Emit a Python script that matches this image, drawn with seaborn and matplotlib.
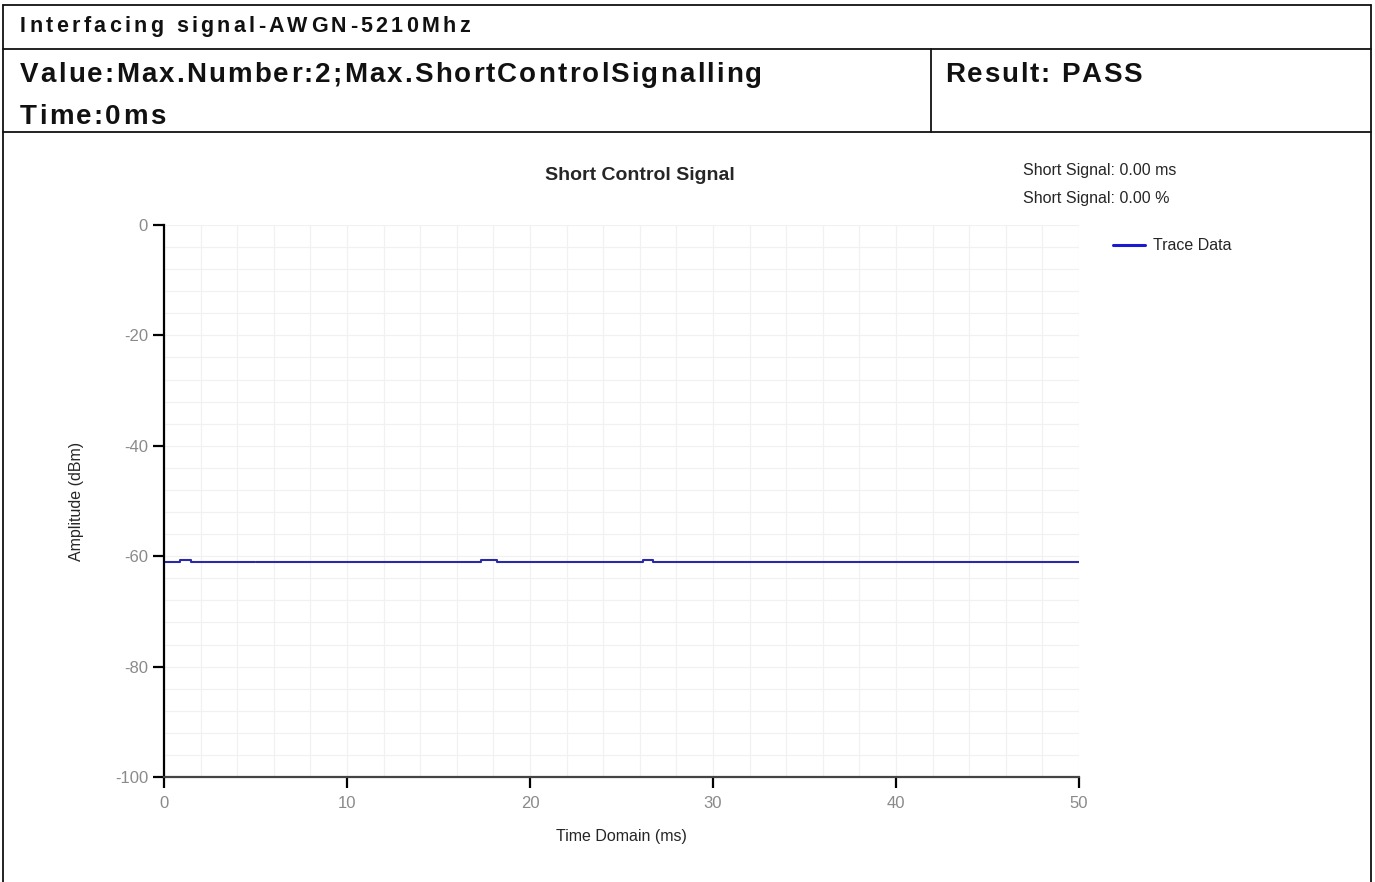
import numpy as np
import pandas as pd
import matplotlib
matplotlib.use("Agg")
import matplotlib.pyplot as plt
from matplotlib.lines import Line2D
from matplotlib.ticker import MultipleLocator
from matplotlib import font_manager
import seaborn as sns

# ---- data ----
time_ms = [0.0, 0.9, 0.9, 1.45, 1.45, 4.95,
           5.05, 17.3, 17.3, 18.2, 18.2, 26.15, 26.15, 26.7, 26.7, 50.0]
amplitude_dbm = [-61.0, -61.0, -60.7, -60.7, -61.0, -61.0,
                 -61.0, -61.0, -60.7, -60.7, -61.0, -61.0, -60.7, -60.7, -61.0, -61.0]
segment = [0, 0, 0, 0, 0, 0,
           1, 1, 1, 1, 1, 1, 1, 1, 1, 1]
x_ticks = [0, 10, 20, 30, 40, 50]
y_ticks = [0, -20, -40, -60, -80, -100]

header_title = "Interfacing signal-AWGN-5210Mhz"
header_value_1 = "Value:Max.Number:2;Max.ShortControlSignalling"
header_value_2 = "Time:0ms"
header_result = "Result: PASS"
chart_title = "Short Control Signal"
info_lines = ["Short Signal: 0.00 ms", "Short Signal: 0.00 %"]
legend_label = "Trace Data"

df = pd.DataFrame({"Time": time_ms, "Amplitude": amplitude_dbm, "seg": segment})

sns.set_style("white")
plt.rcParams['font.family'] = ['Liberation Sans', 'DejaVu Sans']
plt.rcParams['axes.unicode_minus'] = False

W, H = 1375, 882
fig = plt.figure(figsize=(W / 100, H / 100), dpi=100)
renderer = fig.canvas.get_renderer()


def fx(px):
    return px / W


def fy(py):
    return 1 - py / H


# frame / table lines
lw = 1.3
for (x0, y0, x1, y1) in [(2.5, 5, 1371, 5), (2.5, 5, 2.5, 882), (1371, 5, 1371, 882),
                         (2.5, 48.5, 1371, 48.5), (2.5, 132, 1371, 132), (931, 48.5, 931, 132)]:
    fig.add_artist(Line2D([fx(x0), fx(x1)], [fy(y0), fy(y1)], color="#111111", lw=lw))

# pick header font
hdr_family = 'Liberation Sans'
try:
    font_manager.findfont(font_manager.FontProperties(family='Liberation Sans Narrow'),
                          fallback_to_default=False)
    hdr_family = 'Liberation Sans Narrow'
except Exception:
    pass


def char_width(ch, size):
    if ch == " ":
        t1 = fig.text(0, 0, "a a", fontsize=size, fontweight="bold", family=hdr_family)
        t2 = fig.text(0, 0, "aa", fontsize=size, fontweight="bold", family=hdr_family)
        w = t1.get_window_extent(renderer).width - t2.get_window_extent(renderer).width
        t1.remove(); t2.remove()
        return w
    t = fig.text(0, 0, ch, fontsize=size, fontweight="bold", family=hdr_family)
    w = t.get_window_extent(renderer).width
    t.remove()
    return w


def tracked_text(x_px, base_px, s, size, target_px):
    widths = [char_width(c, size) for c in s]
    extra = (target_px - sum(widths)) / max(len(s) - 1, 1)
    x = x_px
    for c, w in zip(s, widths):
        if c != " ":
            fig.text(fx(x), fy(base_px), c, fontsize=size, fontweight="bold",
                     family=hdr_family, ha="left", va="baseline", color="#111111")
        x += w + extra


tracked_text(20, 32, header_title, 15.5, 450)
tracked_text(20, 82, header_value_1, 20, 742)
tracked_text(20, 124, header_value_2, 20, 145)
tracked_text(945, 82, header_result, 20, 197)

# plot axes
left, right, top, bottom = 164, 1079, 225, 777
ax = fig.add_axes([fx(left), fy(bottom), (right - left) / W, (bottom - top) / H])
sns.lineplot(data=df, x="Time", y="Amplitude", units="seg", estimator=None, sort=False,
             ax=ax, color="#2a2aa6", lw=1.5, legend=False)
ax.set_xlim(0, 50)
ax.set_ylim(-100, 0)
ax.set_xticks(x_ticks)
ax.set_yticks(y_ticks)
ax.xaxis.set_minor_locator(MultipleLocator(2))
ax.yaxis.set_minor_locator(MultipleLocator(4))
ax.grid(True, which="both", color="#f1f1f1", lw=0.9)
ax.set_axisbelow(True)
for s in ["top", "right"]:
    ax.spines[s].set_visible(False)
ax.spines["left"].set_color("black")
ax.spines["left"].set_linewidth(1.6)
ax.spines["bottom"].set_color("#444444")
ax.spines["bottom"].set_linewidth(1.6)
ax.tick_params(axis="both", which="major", direction="out", length=8, width=1.6,
               bottom=True, left=True, colors="black", labelcolor="#8a8a8a", labelsize=12)
ax.tick_params(axis="x", which="major", pad=6)
ax.tick_params(axis="both", which="minor", length=0)
ax.set_xlabel("Time Domain (ms)", fontsize=11.5, labelpad=13)
ax.set_ylabel("Amplitude (dBm)", fontsize=11.5, labelpad=22)

fig.text(fx(640), fy(176), chart_title, fontsize=14, fontweight="bold", ha="center", va="center")
fig.text(fx(1023), fy(170), info_lines[0], fontsize=11.5, ha="left", va="center")
fig.text(fx(1023), fy(199), info_lines[1], fontsize=11.5, ha="left", va="center")

legend_handle = [Line2D([], [], color="#1a1ad0", lw=2.2)]
fig.legend(legend_handle, [legend_label], loc="center left", bbox_to_anchor=(fx(1099), fy(246)),
           frameon=False, fontsize=11.5, handlelength=2.0, handletextpad=0.5)

fig.savefig("out.png", dpi=100)
